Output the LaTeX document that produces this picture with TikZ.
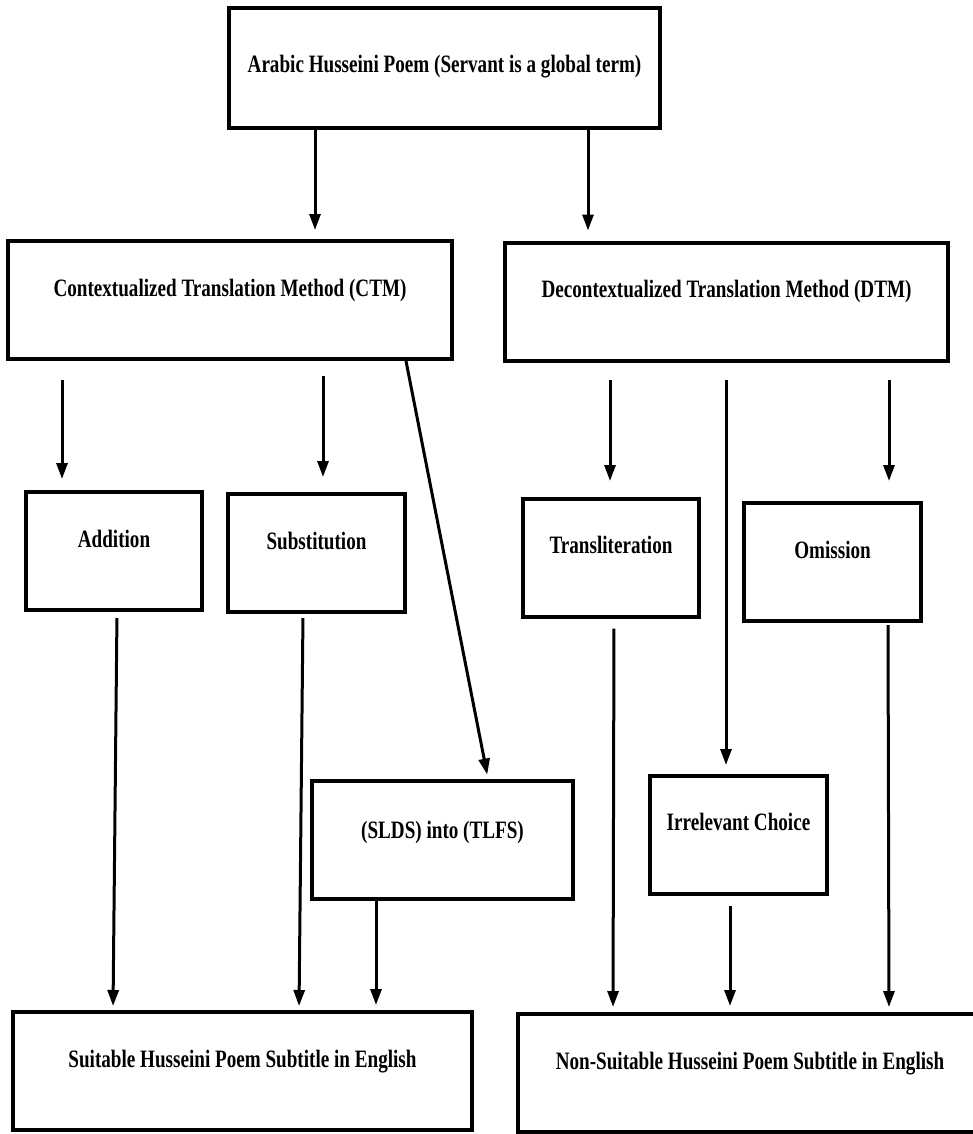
\documentclass[tikz,border=0pt]{standalone}
\usepackage{fontspec}
\usepackage{xcolor}
\usepackage{tikz}
\usetikzlibrary{arrows.meta, positioning}

\newfontfamily\boxfont[FakeStretch=0.765]{Liberation Serif}

\begin{document}
\begin{tikzpicture}[x=1pt, y=-1pt,
    stage/.style={rectangle, draw, line width=4pt, inner sep=0pt, minimum height=118pt,
        text height=17pt, text depth=25pt, align=center, font=\boxfont\bfseries\fontsize{25}{28}\selectfont},
    arrow/.style={-{Triangle[width=11pt, length=16pt]}, line width=3pt}]

    \useasboundingbox (0,0) rectangle (972,1134);

    \node (poem) [stage, minimum width=431pt, minimum height=120pt, text depth=7pt] at (444.5,68) {Arabic Husseini Poem (Servant is a global term)};

    \node (ctm) [stage, minimum width=444pt] at (230,300) {Contextualized Translation Method (CTM)};
    \node (dtm) [stage, minimum width=443pt] at (726.5,301.5) {Decontextualized Translation Method (DTM)};

    \node (addition) [stage, minimum width=176pt] at (114,551) {Addition};
    \node (substitution) [stage, minimum width=177pt] at (316.5,553) {Substitution};
    \node (translit) [stage, minimum width=176pt] at (611,557.5) {Transliteration};
    \node (omission) [stage, minimum width=177pt] at (832.5,562) {Omission};

    \node (slds) [stage, minimum width=261pt, text depth=19pt] at (442.5,839.5) {(SLDS) into (TLFS)};
    \node (irrelevant) [stage, minimum width=177pt] at (738.5,834.5) {Irrelevant Choice};

    \node (suitable) [stage, minimum width=459pt] at (242.5,1071) {Suitable Husseini Poem Subtitle in English};
    \node (nonsuit) [stage, minimum width=464pt] at (750,1073) {Non-Suitable Husseini Poem Subtitle in English};

    % top to the two methods
    \draw [arrow, shorten >=9pt] ([xshift=-129.5pt]poem.south) -- ([xshift=85pt]ctm.north);
    \draw [arrow, shorten >=10pt] ([xshift=143.5pt]poem.south) -- ([xshift=-138.5pt]dtm.north);

    % CTM branch
    \draw [arrow, shorten <=19pt, shorten >=11pt] ([xshift=-168pt]ctm.south) -- ([xshift=-52pt]addition.north);
    \draw [arrow, shorten <=15pt, shorten >=15pt] ([xshift=93pt]ctm.south) -- ([xshift=6.5pt]substitution.north);
    \draw [arrow, shorten >=4pt] ([xshift=176pt]ctm.south) -- ([xshift=45.5pt]slds.north);

    % DTM branch
    \draw [arrow, shorten <=17.5pt, shorten >=15.5pt] ([xshift=-116.5pt]dtm.south) -- ([xshift=-1pt]translit.north);
    \draw [arrow, shorten <=17.5pt, shorten >=8.5pt] ([xshift=-0.5pt]dtm.south) -- ([xshift=-12.5pt]irrelevant.north);
    \draw [arrow, shorten <=17.5pt, shorten >=20pt] ([xshift=162.5pt]dtm.south) -- ([xshift=56.5pt]omission.north);

    % into the results
    \draw [arrow, shorten <=6pt, shorten >=4pt] ([xshift=3pt]addition.south) -- ([xshift=-129.5pt]suitable.north);
    \draw [arrow, shorten <=4pt, shorten >=4pt] ([xshift=-13.5pt]substitution.south) -- ([xshift=56.5pt]suitable.north);
    \draw [arrow, shorten >=5pt] ([xshift=-66.5pt]slds.south) -- ([xshift=133.5pt]suitable.north);
    \draw [arrow, shorten <=10pt, shorten >=5pt] ([xshift=3pt]translit.south) -- ([xshift=-137pt]nonsuit.north);
    \draw [arrow, shorten <=10pt, shorten >=6pt] ([xshift=-8.5pt]irrelevant.south) -- ([xshift=-20pt]nonsuit.north);
    \draw [arrow, shorten <=2pt, shorten >=5pt] ([xshift=55.5pt]omission.south) -- ([xshift=139pt]nonsuit.north);

\end{tikzpicture}
\end{document}
